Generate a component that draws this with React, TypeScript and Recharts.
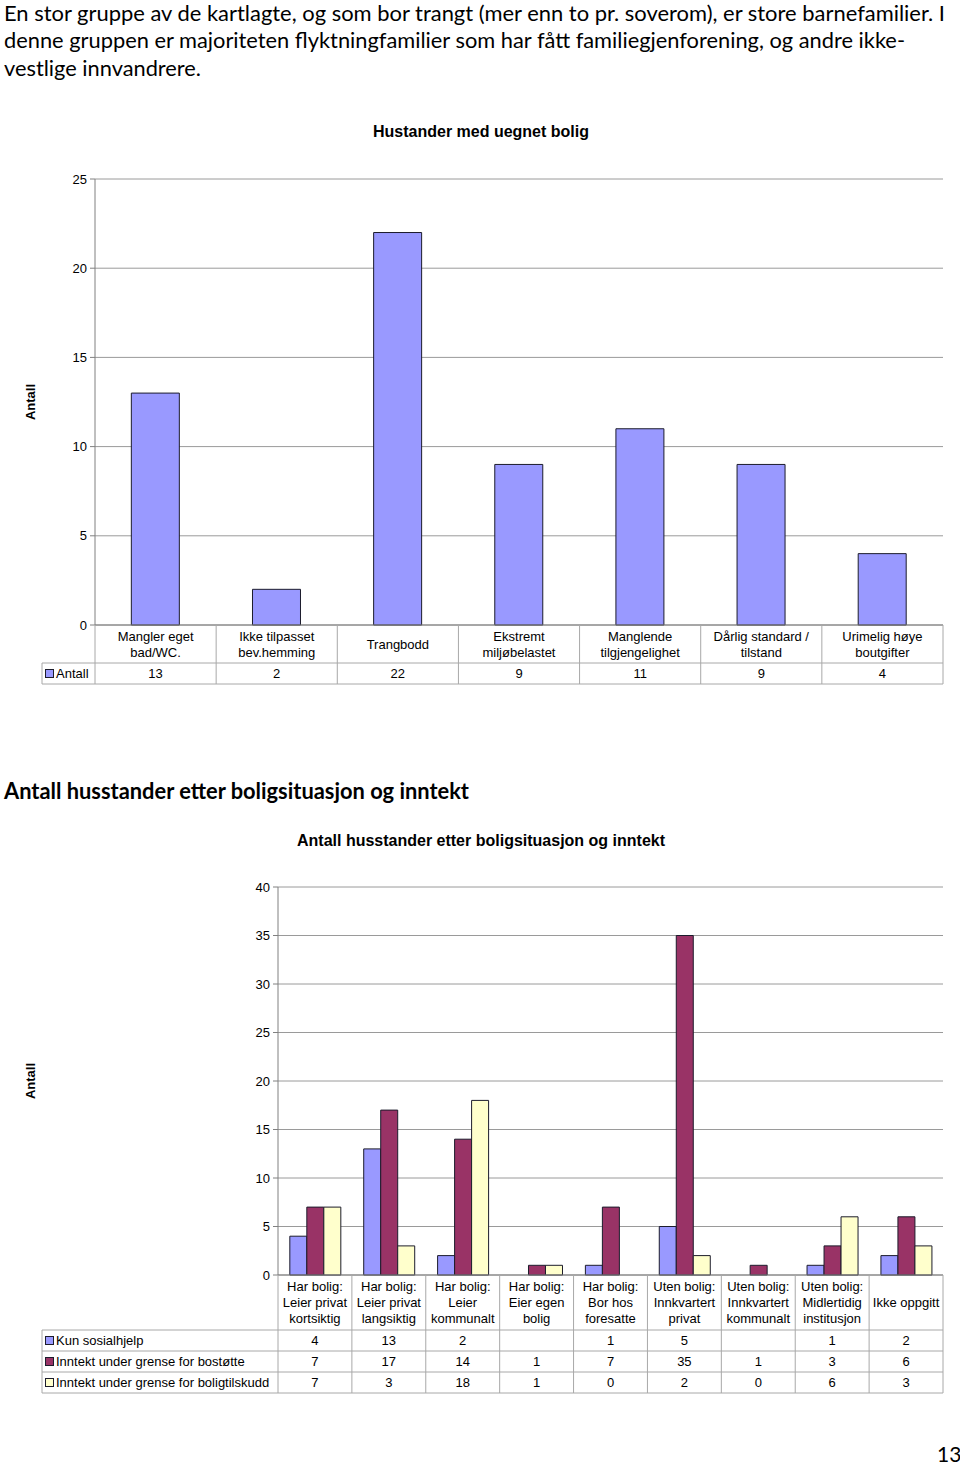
import React from "react";
import { BarChart, Bar, XAxis, YAxis, CartesianGrid } from "recharts";

const FONT = "'Liberation Sans', Arial, sans-serif";
const TEXT_FONT = "Lato, 'Open Sans', sans-serif";

const intro = [
  "En stor gruppe av de kartlagte, og som bor trangt (mer enn to pr. soverom), er store barnefamilier. I",
  "denne gruppen er majoriteten flyktningfamilier som har fått familiegjenforening, og andre ikke-",
  "vestlige innvandrere.",
];

// chart 1
const boligProblemer = [
  "Mangler eget\nbad/WC.",
  "Ikke tilpasset\nbev.hemming",
  "Trangbodd",
  "Ekstremt\nmiljøbelastet",
  "Manglende\ntilgjengelighet",
  "Dårlig standard /\ntilstand",
  "Urimelig høye\nboutgifter",
];
const antall = [13, 2, 22, 9, 11, 9, 4];
const ticks1 = [0, 5, 10, 15, 20, 25];

// chart 2
const situasjoner = [
  "Har bolig:\nLeier privat\nkortsiktig",
  "Har bolig:\nLeier privat\nlangsiktig",
  "Har bolig:\nLeier\nkommunalt",
  "Har bolig:\nEier egen\nbolig",
  "Har bolig:\nBor hos\nforesatte",
  "Uten bolig:\nInnkvartert\nprivat",
  "Uten bolig:\nInnkvartert\nkommunalt",
  "Uten bolig:\nMidlertidig\ninstitusjon",
  "Ikke oppgitt",
];
const kunSosialhjelp = [4, 13, 2, null, 1, 5, null, 1, 2];
const underBostotte = [7, 17, 14, 1, 7, 35, 1, 3, 6];
const underBoligtilskudd = [7, 3, 18, 1, 0, 2, 0, 6, 3];
const serieNavn = [
  "Kun sosialhjelp",
  "Inntekt under grense for bostøtte",
  "Inntekt under grense for boligtilskudd",
];
const ticks2 = [0, 5, 10, 15, 20, 25, 30, 35, 40];

const COLORS = ["#9999FF", "#993366", "#FFFFCC"];
const GRID = "#9a9a9a";
const TABLE = "#a8a8a8";
const BAR_EDGE = "#1c1c2c";

type Row = { label: string; values: (number | null)[]; color: string };

function makeTableTick(o: {
  labels: string[];
  rows: Row[];
  bandWidth: number;
  catHeight: number;
  tableLeft: number;
  plotLeft: number;
  plotRight: number;
}) {
  const rowH = 21;
  return (props: any) => {
    const { x, y, index } = props;
    const half = o.bandWidth / 2;
    const bottom = y + o.catHeight + rowH * o.rows.length;
    const lines = o.labels[index].split("\n");
    const cy = y + o.catHeight / 2;
    return (
      <g fontFamily={FONT} fontSize={13} fill="#000">
        <line x1={x + half} x2={x + half} y1={y} y2={bottom} stroke={TABLE} />
        {index === 0 && (
          <g>
            <line x1={o.plotLeft} x2={o.plotLeft} y1={y} y2={bottom} stroke={TABLE} />
            <line x1={o.tableLeft} x2={o.tableLeft} y1={y + o.catHeight} y2={bottom} stroke={TABLE} />
            {o.rows.map((r, i) => {
              const ry = y + o.catHeight + i * rowH;
              return (
                <g key={i}>
                  <line x1={o.tableLeft} x2={o.plotRight} y1={ry} y2={ry} stroke={TABLE} />
                  <rect x={o.tableLeft + 3.5} y={ry + 6.5} width={8} height={8} fill={r.color} stroke={BAR_EDGE} />
                  <text x={o.tableLeft + 14} y={ry + rowH / 2} dominantBaseline="central" fill="#000">
                    {r.label}
                  </text>
                </g>
              );
            })}
            <line x1={o.tableLeft} x2={o.plotRight} y1={bottom} y2={bottom} stroke={TABLE} />
          </g>
        )}
        {lines.map((l, i) => (
          <text
            key={i}
            x={x}
            y={cy + (i - (lines.length - 1) / 2) * 16}
            textAnchor="middle"
            dominantBaseline="central"
            fill="#000"
          >
            {l}
          </text>
        ))}
        {o.rows.map((r, i) => {
          const v = r.values[index];
          if (v === null || v === undefined) return null;
          return (
            <text
              key={"v" + i}
              x={x}
              y={y + o.catHeight + i * rowH + rowH / 2}
              textAnchor="middle"
              dominantBaseline="central"
              fill="#000"
            >
              {v}
            </text>
          );
        })}
      </g>
    );
  };
}

const yTitle = (cx: number) => (props: any) => {
  const vb = props.viewBox;
  const cy = vb.y + vb.height / 2;
  return (
    <text
      x={cx}
      y={cy}
      transform={`rotate(-90, ${cx}, ${cy})`}
      textAnchor="middle"
      dominantBaseline="central"
      fontFamily={FONT}
      fontSize={13}
      fontWeight="bold"
      fill="#000"
    >
      Antall
    </text>
  );
};

function HusstanderChart() {
  const data = boligProblemer.map((k, i) => ({ kategori: k, antall: antall[i] }));
  const left = 95;
  const right = 943;
  const tick = makeTableTick({
    labels: boligProblemer,
    rows: [{ label: "Antall", values: antall, color: COLORS[0] }],
    bandWidth: (right - left) / data.length,
    catHeight: 38,
    tableLeft: 42,
    plotLeft: left,
    plotRight: right,
  });
  return (
    <BarChart
      width={960}
      height={540}
      data={data}
      margin={{ top: 19, right: 960 - right, bottom: 0, left: 0 }}
      barCategoryGap="30%"
    >
      <CartesianGrid vertical={false} stroke={GRID} />
      <XAxis
        dataKey="kategori"
        height={75}
        interval={0}
        tickSize={0}
        tickMargin={0}
        tick={tick}
        axisLine={{ stroke: "#808080" }}
      />
      <YAxis
        width={left}
        domain={[0, 25]}
        ticks={ticks1}
        tickSize={5}
        tickMargin={3}
        tick={{ fill: "#000", fontSize: 13, fontFamily: FONT }}
        axisLine={{ stroke: "#808080" }}
        tickLine={{ stroke: "#808080" }}
        label={{ content: yTitle(30) }}
      />
      <YAxis yAxisId="r" orientation="right" width={0} domain={[0, 25]} tick={false} tickLine={false} axisLine={{ stroke: GRID }} />
      <Bar dataKey="antall" fill={COLORS[0]} stroke={BAR_EDGE} strokeWidth={1} isAnimationActive={false} />
    </BarChart>
  );
}

function InntektChart() {
  const data = situasjoner.map((k, i) => ({
    kategori: k,
    kun: kunSosialhjelp[i],
    bostotte: underBostotte[i],
    tilskudd: underBoligtilskudd[i],
  }));
  const left = 278;
  const right = 943;
  const rows: Row[] = [
    { label: serieNavn[0], values: kunSosialhjelp, color: COLORS[0] },
    { label: serieNavn[1], values: underBostotte, color: COLORS[1] },
    { label: serieNavn[2], values: underBoligtilskudd, color: COLORS[2] },
  ];
  const tick = makeTableTick({
    labels: situasjoner,
    rows,
    bandWidth: (right - left) / data.length,
    catHeight: 55,
    tableLeft: 42,
    plotLeft: left,
    plotRight: right,
  });
  return (
    <BarChart
      width={960}
      height={530}
      data={data}
      margin={{ top: 17, right: 960 - right, bottom: 0, left: 0 }}
      barCategoryGap="16%"
      barGap={0}
    >
      <CartesianGrid vertical={false} stroke={GRID} />
      <XAxis
        dataKey="kategori"
        height={125}
        interval={0}
        tickSize={0}
        tickMargin={0}
        tick={tick}
        axisLine={{ stroke: "#808080" }}
      />
      <YAxis
        width={left}
        domain={[0, 40]}
        ticks={ticks2}
        tickSize={5}
        tickMargin={3}
        tick={{ fill: "#000", fontSize: 13, fontFamily: FONT }}
        axisLine={{ stroke: "#808080" }}
        tickLine={{ stroke: "#808080" }}
        label={{ content: yTitle(30) }}
      />
      <YAxis yAxisId="r" orientation="right" width={0} domain={[0, 40]} tick={false} tickLine={false} axisLine={{ stroke: GRID }} />
      <Bar dataKey="kun" fill={COLORS[0]} stroke={BAR_EDGE} isAnimationActive={false} />
      <Bar dataKey="bostotte" fill={COLORS[1]} stroke={BAR_EDGE} isAnimationActive={false} />
      <Bar dataKey="tilskudd" fill={COLORS[2]} stroke={BAR_EDGE} isAnimationActive={false} />
    </BarChart>
  );
}

const abs = (top: number, left = 0): React.CSSProperties => ({ position: "absolute", top, left });

export default function App() {
  return (
    <div style={{ position: "relative", width: 960, height: 1466, background: "#fff", overflow: "hidden" }}>
      <style>{"html,body{margin:0;padding:0;overflow:hidden}"}</style>
      <svg width={960} height={90} style={abs(0)}>
        {intro.map((l, i) => (
          <text
            key={i}
            x={4}
            y={12 + i * 27.5}
            dominantBaseline="central"
            fontFamily={TEXT_FONT}
            fontSize={21}
            textLength={[941, 901, 197][i]}
            lengthAdjust="spacingAndGlyphs"
            fill="#000"
          >
            {l}
          </text>
        ))}
      </svg>
      <div style={{ ...abs(123), width: 962, textAlign: "center", fontFamily: FONT, fontWeight: "bold", fontSize: 16 }}>
        Hustander med uegnet bolig
      </div>
      <div style={abs(160)}>
        <HusstanderChart />
      </div>
      <svg width={960} height={30} style={abs(775)}>
        <text
          x={4}
          y={15}
          dominantBaseline="central"
          fontFamily={TEXT_FONT}
          fontSize={22}
          fontWeight="bold"
          textLength={465}
          lengthAdjust="spacingAndGlyphs"
          fill="#000"
        >
          Antall husstander etter boligsituasjon og inntekt
        </text>
      </svg>
      <div style={{ ...abs(832), width: 962, textAlign: "center", fontFamily: FONT, fontWeight: "bold", fontSize: 16 }}>
        Antall husstander etter boligsituasjon og inntekt
      </div>
      <div style={abs(870)}>
        <InntektChart />
      </div>
      <div style={{ ...abs(1441, 937), fontFamily: TEXT_FONT, fontSize: 21, lineHeight: "26px" }}>13</div>
    </div>
  );
}
